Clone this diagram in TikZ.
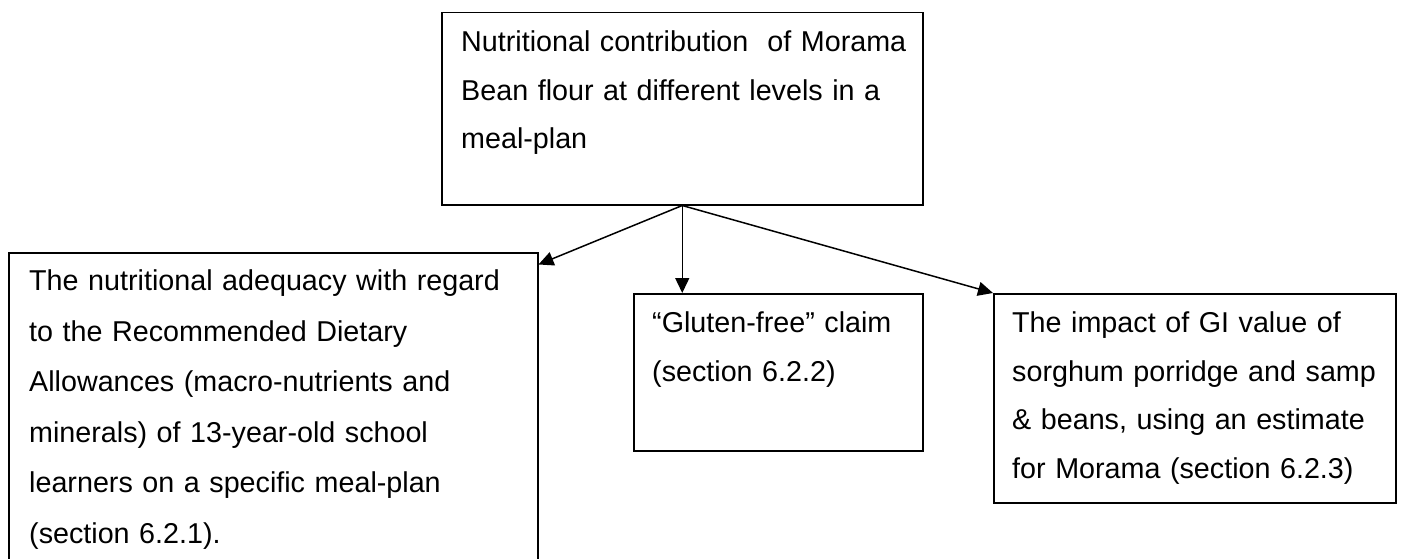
\documentclass[tikz,border=0pt]{standalone}
\usepackage{fontspec}
\setmainfont{Liberation Sans}
\usetikzlibrary{arrows.meta}
\begin{document}
\begin{tikzpicture}[x=1pt,y=-1pt,
  box/.style={draw, line width=1.5pt, inner sep=0pt, anchor=north west},
  txt/.style={anchor=north west, inner sep=0pt, text width=480pt, align=left,
    font=\fontsize{28.7}{48.5}\selectfont},
  widetxt/.style={txt, font=\fontsize{28.7}{50.5}\selectfont},
  link/.style={line width=1.5pt, -{Triangle[length=15pt,width=14pt]}}]
\useasboundingbox (0,0) rectangle (1406,559);
\begin{scope}
\clip (0,0) rectangle (1406,559);
% boxes
\node[box, minimum width=481pt, minimum height=192pt] (top) at (441,12) {};
\node[box, minimum width=529pt, minimum height=420pt] (left) at (8,252) {};
\node[box, minimum width=289pt, minimum height=157pt] (mid) at (633,293) {};
\node[box, minimum width=402pt, minimum height=209pt] (right) at (993,293) {};
% box texts
\node[txt] (toptext) at ([shift={(20,5.7)}]top.north west)
  {\strut Nutritional contribution\ \ of Morama\\
   Bean flour at different levels in a\\
   meal-plan};
\node[widetxt] (lefttext) at ([shift={(21,3.3)}]left.north west)
  {\strut The nutritional adequacy with regard\\
   to the Recommended Dietary\\
   Allowances (macro-nutrients and\\
   minerals) of 13-year-old school\\
   learners on a specific meal-plan\\
   (section 6.2.1).};
\node[txt] (midtext) at ([shift={(19,5.7)}]mid.north west)
  {\strut “Gluten-free” claim\\
   (section 6.2.2)};
\node[txt] (righttext) at ([shift={(19,5.7)}]right.north west)
  {\strut The impact of GI value of\\
   sorghum porridge and samp\\
   \& beans, using an estimate\\
   for Morama (section 6.2.3)};
% connectors
\draw[link] (top.south) -- ([yshift=-12.5pt]left.north east);
\draw[link] (top.south) -- (top.south |- mid.north);
\draw[link] (top.south) -- (right.north west);
\end{scope}
\end{tikzpicture}
\end{document}
